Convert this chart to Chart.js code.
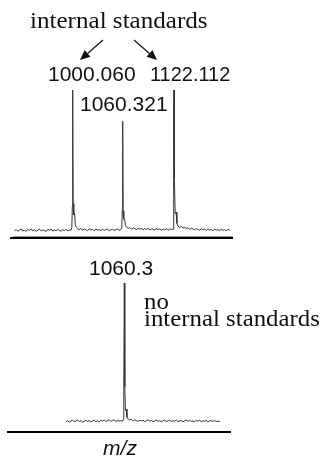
<!DOCTYPE html>
<html>
<head>
<meta charset="utf-8">
<script src="https://cdn.jsdelivr.net/npm/chart.js@4/dist/chart.umd.min.js"></script>
<style>
  html,body{margin:0;padding:0;background:#fff;}
  #wrap{position:relative;width:324px;height:456px;overflow:hidden;}
  #c1{position:absolute;left:0;top:0;}
  #c2{position:absolute;left:0;top:245px;}
</style>
</head>
<body>
<div id="wrap">
  <canvas id="c1" width="324" height="245"></canvas>
  <canvas id="c2" width="324" height="211"></canvas>
</div>
<script>
// ---- data (m/z and relative intensity) ----
const topMz = [930,932,934,936,938,940,942,944,946,948,950,952,954,956,958,960,962,964,966,968,970,972,974,976,978,980,982,984,986,988,990,992,994,996,998,999.0,999.6,1000.06,1000.6,1001.4,1002.4,1003.2,1004.5,1006,1008,1010,1012,1014,1016,1018,1020,1022,1024,1026,1028,1030,1032,1034,1036,1038,1040,1042,1044,1046,1048,1050,1052,1054,1056,1058,1059.2,1059.8,1060.321,1060.8,1061.6,1062.6,1063.6,1065,1067,1069,1071,1073,1075,1077,1079,1081,1083,1085,1087,1089,1091,1093,1095,1097,1099,1101,1103,1105,1107,1109,1111,1113,1115,1117,1119,1121,1121.6,1121.9,1122.112,1122.35,1122.7,1123.5,1124.6,1125.6,1127,1129,1131,1133,1135,1137,1139,1141,1143,1145,1147,1149,1151,1153,1155,1157,1159,1161,1163,1165,1167,1169,1171,1173,1175,1177,1179,1181,1183,1185,1187,1189.5];
const topInt = [0.8,1.7,0.5,1.4,2.1,0.7,1.2,0.4,1.9,1.0,2.2,0.9,1.6,0.5,1.3,2.0,0.8,1.5,1.1,0.4,1.8,1.2,2.1,0.6,1.4,0.9,1.9,1.1,0.5,1.7,1.0,2.0,0.7,1.4,1.2,3,18,100,20,12,13,5,3.2,2.4,1.6,2.6,1.2,2.2,1.5,0.9,2.3,1.4,1.8,0.8,2.1,1.3,1.7,0.9,2.0,1.1,1.6,2.2,0.8,1.5,1.9,1.0,1.7,2.1,1.2,1.6,3,16,78,15,9,9,4.5,3.4,2.6,3.2,2.0,2.9,2.3,1.6,2.8,2.0,2.5,1.5,2.4,1.8,2.7,1.4,2.2,1.9,1.3,2.6,1.7,2.3,1.2,2.0,1.6,2.4,1.1,2.1,1.7,2.0,10,88,100,88,38,13,14,6,4.2,3.0,4.2,2.7,3.5,2.2,3.1,1.8,2.6,2.2,1.5,2.4,1.9,1.2,2.3,1.6,2.0,1.1,2.2,1.4,1.8,0.9,2.1,1.3,1.7,1.0,2.0,1.2,1.6,0.9,1.8,1.3,1.5];

const botMz = [990,992,994,996,998,1000,1002,1004,1006,1008,1010,1012,1014,1016,1018,1020,1022,1024,1026,1028,1030,1032,1034,1036,1038,1040,1042,1044,1046,1048,1050,1052,1054,1056,1058,1059.0,1059.7,1060.3,1060.9,1061.7,1062.6,1063.5,1065,1067,1069,1071,1073,1075,1077,1079,1081,1083,1085,1087,1089,1091,1093,1095,1097,1099,1101,1103,1105,1107,1109,1111,1113,1115,1117,1119,1121,1123,1125,1127,1129,1131,1133,1135,1137,1139,1141,1143,1145,1147,1149,1151,1153,1155,1157,1159,1161,1163,1165,1167,1169,1171,1173,1175.6];
const botInt = [0.9,1.6,0.7,1.4,2.0,0.8,1.5,2.2,1.0,1.7,0.6,1.3,2.0,1.1,1.8,0.9,1.5,2.1,1.0,1.6,0.7,1.9,1.3,2.2,1.1,1.7,2.4,1.2,1.8,2.3,1.0,1.9,1.4,1.7,1.3,2.5,24,100,26,9,10,4,2.8,2.2,2.7,1.5,2.3,1.7,1.2,2.0,1.5,1.9,1.0,1.6,2.2,1.3,1.8,0.9,1.5,2.1,1.2,1.7,0.8,1.6,2.0,1.1,1.4,2.2,0.9,1.7,1.3,2.0,1.0,1.5,1.8,0.8,1.6,2.1,1.2,1.9,1.1,1.5,0.9,1.8,1.3,2.0,1.0,1.6,1.2,1.9,0.8,1.4,1.7,1.1,1.8,1.0,1.3,1.1];

const topPeakLabels = ["1000.060","1122.112","1060.321"];
const botPeakLabels = ["1060.3"];
const axisTitle = "m/z";
const topNote = "internal standards";
const botNote = ["no","internal standards"];

function toPts(xs, ys){ return xs.map((x,i)=>({x:x,y:ys[i]})); }

function drawArrow(ctx,x1,y1,x2,y2){
  const a=Math.atan2(y2-y1,x2-x1), L=10, W=4.5;
  const bx=x2-L*Math.cos(a), by=y2-L*Math.sin(a);
  ctx.beginPath(); ctx.moveTo(x1,y1); ctx.lineTo(bx,by); ctx.stroke();
  ctx.beginPath(); ctx.moveTo(x2,y2);
  ctx.lineTo(bx+W*Math.sin(a), by-W*Math.cos(a));
  ctx.lineTo(bx-W*Math.sin(a), by+W*Math.cos(a));
  ctx.closePath(); ctx.fill();
}
function stretchText(ctx, txt, x, y, sx){
  ctx.save(); ctx.translate(x,y); ctx.scale(sx,1); ctx.fillText(txt,0,0); ctx.restore();
}

const baseOpts = (xmin,xmax,ymin,pad)=>({
  responsive:false, animation:false, devicePixelRatio:1,
  layout:{padding:pad},
  plugins:{legend:{display:false}, tooltip:{enabled:false}},
  elements:{point:{radius:0}, line:{tension:0}},
  scales:{
    x:{type:'linear', min:xmin, max:xmax, display:false},
    y:{min:ymin, max:100, display:false}
  }
});

const topDecor = {
  id:'topDecor',
  afterDraw(chart){
    const ctx=chart.ctx, a=chart.chartArea;
    ctx.save();
    ctx.strokeStyle='#999'; ctx.lineWidth=1;
    ctx.beginPath(); ctx.moveTo(13,236.5); ctx.lineTo(233,236.5); ctx.stroke();
    ctx.strokeStyle='#000'; ctx.lineWidth=2;
    ctx.beginPath(); ctx.moveTo(a.left,a.bottom-1); ctx.lineTo(a.right,a.bottom-1); ctx.stroke();
    ctx.fillStyle='#111';
    ctx.font='24px "Liberation Serif", "Times New Roman", serif';
    ctx.textBaseline='alphabetic'; ctx.textAlign='left';
    stretchText(ctx, topNote, 30, 28, 1.045);
    ctx.font='21px "Liberation Sans", Arial, sans-serif';
    ctx.fillText(topPeakLabels[0], 48, 81);
    stretchText(ctx, topPeakLabels[1], 150, 81, 0.95);
    ctx.fillText(topPeakLabels[2], 80, 111);
    ctx.strokeStyle='#111'; ctx.fillStyle='#111'; ctx.lineWidth=1.2;
    drawArrow(ctx,103,40,80,60);
    drawArrow(ctx,134,40,157,60);
    ctx.restore();
  }
};
const botDecor = {
  id:'botDecor',
  afterDraw(chart){
    const ctx=chart.ctx, a=chart.chartArea;
    ctx.save();
    ctx.strokeStyle='#000'; ctx.lineWidth=2;
    ctx.beginPath(); ctx.moveTo(a.left,a.bottom-1); ctx.lineTo(a.right,a.bottom-1); ctx.stroke();
    ctx.fillStyle='#111'; ctx.textAlign='left'; ctx.textBaseline='alphabetic';
    ctx.font='21px "Liberation Sans", Arial, sans-serif';
    ctx.fillText(botPeakLabels[0], 89, 275-245);
    ctx.font='23px "Liberation Serif", "Times New Roman", serif';
    stretchText(ctx, botNote[0], 144, 309-245, 1.08);
    stretchText(ctx, botNote[1], 144, 326-245, 1.08);
    ctx.font='italic 21px "Liberation Sans", Arial, sans-serif';
    ctx.textAlign='center';
    ctx.fillText(axisTitle, 120, 455-245);
    ctx.restore();
  }
};

new Chart(document.getElementById('c1'), {
  type:'line',
  data:{datasets:[{data:toPts(topMz,topInt), borderColor:'#333', borderWidth:1, fill:false}]},
  options: baseOpts(924.52, 1193.19, -4.93, {left:10, right:91, top:90, bottom:6}),
  plugins:[topDecor]
});
new Chart(document.getElementById('c2'), {
  type:'line',
  data:{datasets:[{data:toPts(botMz,botInt), borderColor:'#333', borderWidth:1, fill:false}]},
  options: baseOpts(918.97, 1188.85, -7.14, {left:7, right:93, top:38, bottom:23}),
  plugins:[botDecor]
});
</script>
</body>
</html>
